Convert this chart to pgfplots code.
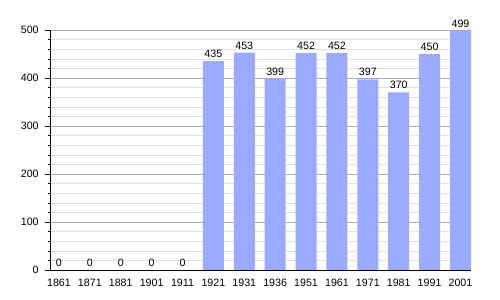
\documentclass[border=0pt]{standalone}
\usepackage{pgfplots}
\pgfplotsset{compat=1.18}
\usepackage{fontspec}
\setmainfont{Liberation Sans}
\definecolor{barblue}{RGB}{153,170,255}
\begin{document}
\begin{tikzpicture}
\path[use as bounding box] (0,0) rectangle (375pt,225pt);
\begin{axis}[
  at={(37.5pt,22.5pt)}, anchor=south west,
  scale only axis, width=315.75pt, height=180pt,
  xmin=-0.29, xmax=13.34, ymin=0, ymax=500,
  axis x line*=bottom, axis y line*=left,
  axis line style={black, -},
  xtick=data,
  xticklabels={1861,1871,1881,1901,1911,1921,1931,1936,1951,1961,1971,1981,1991,2001},
  x tick style={draw=none},
  ytick={0,100,...,500},
  minor y tick num=4,
  ymajorgrids, yminorgrids,
  major grid style={color=black!33},
  minor grid style={color=black!12},
  major tick length=4pt, minor tick length=1.5pt,
  tick align=outside,
  y tick style={black},
  tick label style={font=\fontsize{8}{9}\selectfont},
  /pgf/number format/assume math mode=true,
  yticklabel style={xshift=-1pt},
  xticklabel style={yshift=1pt},
  ybar, bar width=15.75pt,
  nodes near coords,
  every node near coord/.append style={font=\fontsize{8}{9}\selectfont, yshift=-1pt},
]
\addplot[fill=barblue, draw=none] coordinates {
(0,0) (1,0) (2,0) (3,0) (4,0) (5,435) (6,453) (7,399) (8,452) (9,452) (10,397) (11,370) (12,450) (13,499)};
\end{axis}
\end{tikzpicture}
\end{document}
